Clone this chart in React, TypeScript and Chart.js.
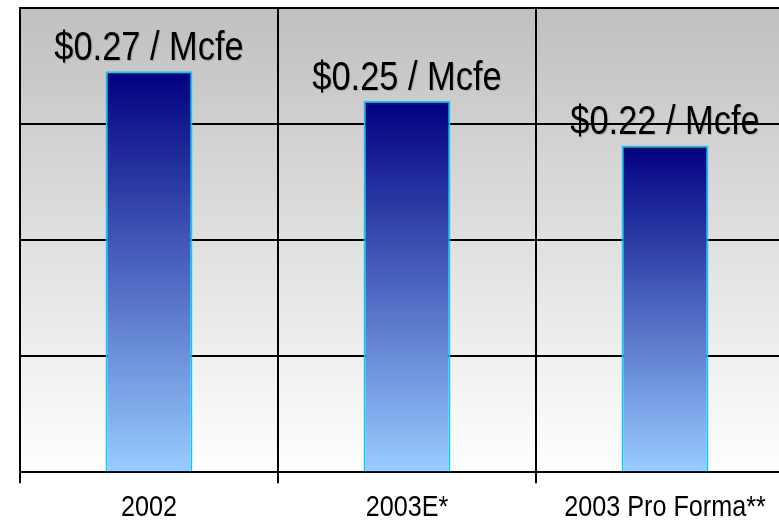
import React, { useEffect, useRef } from "react";
import { Chart, registerables } from "chart.js";

Chart.register(...registerables);

const categories = ["2002", "2003E*", "2003 Pro Forma**"];
const costValues = [0.27, 0.25, 0.22];
const valueLabels = ["$0.27 / Mcfe", "$0.25 / Mcfe", "$0.22 / Mcfe"];
const axisMax = 0.3125;
const axisStep = 0.078125;

const SANS = '"Liberation Sans", Arial, sans-serif';

function drawNarrow(ctx: CanvasRenderingContext2D, text: string, x: number, y: number, sx: number) {
  ctx.save();
  ctx.translate(x, y);
  ctx.scale(sx, 1);
  ctx.fillText(text, 0, 0);
  ctx.restore();
}

const bgPlugin = {
  id: "plotBg",
  beforeDraw(chart: any) {
    const { ctx, chartArea } = chart;
    if (!chartArea) return;
    const g = ctx.createLinearGradient(0, chartArea.top, 0, chartArea.bottom);
    g.addColorStop(0, "#c0c0c0");
    g.addColorStop(1, "#ffffff");
    ctx.save();
    ctx.fillStyle = g;
    ctx.fillRect(chartArea.left, chartArea.top, chartArea.right - chartArea.left, chartArea.bottom - chartArea.top);
    ctx.restore();
  },
};

const labelPlugin = {
  id: "valueLabels",
  afterDatasetsDraw(chart: any) {
    const { ctx } = chart;
    const meta = chart.getDatasetMeta(0);
    ctx.save();
    ctx.font = `40px ${SANS}`;
    ctx.fillStyle = "#000";
    ctx.textAlign = "center";
    ctx.textBaseline = "alphabetic";
    ctx.shadowColor = "rgba(0,0,0,0.18)";
    ctx.shadowOffsetX = 1;
    ctx.shadowOffsetY = 1;
    ctx.shadowBlur = 1;
    meta.data.forEach((bar: any, i: number) => {
      drawNarrow(ctx, valueLabels[i], bar.x, bar.y - 11, 0.86);
    });
    ctx.restore();
  },
  afterDraw(chart: any) {
    const { ctx } = chart;
    const xs = chart.scales.x;
    ctx.save();
    ctx.font = `30px ${SANS}`;
    ctx.fillStyle = "#000";
    ctx.textAlign = "center";
    ctx.textBaseline = "middle";
    xs.ticks.forEach((_t: any, i: number) => {
      drawNarrow(ctx, String(categories[i]), xs.getPixelForTick(i), 508, 0.84);
    });
    ctx.restore();
  },
};

export default function App() {
  const ref = useRef<HTMLCanvasElement | null>(null);

  useEffect(() => {
    if (!ref.current) return;
    const chart = new Chart(ref.current, {
      type: "bar",
      data: {
        labels: categories,
        datasets: [
          {
            data: costValues,
            backgroundColor: (c: any) => {
              const ch = c.chart;
              if (!ch.chartArea || !ch.scales.y) return "#4c66bf";
              const y = ch.scales.y;
              const top = y.getPixelForValue(c.raw);
              const bottom = y.getPixelForValue(0);
              const g = ch.ctx.createLinearGradient(0, top, 0, bottom);
              g.addColorStop(0, "#000080");
              g.addColorStop(1, "#99ccff");
              return g;
            },
            borderColor: "#00ccff",
            borderWidth: 2,
            barPercentage: 0.337,
            categoryPercentage: 1,
          },
        ],
      },
      options: {
        responsive: false,
        animation: false,
        devicePixelRatio: 1,
        layout: { padding: { left: 20, top: 8, right: 16, bottom: 6 } },
        plugins: {
          legend: { display: false },
          tooltip: { enabled: false },
          title: { display: false },
        },
        scales: {
          x: {
            offset: true,
            grid: {
              display: true,
              offset: true,
              color: "#000",
              lineWidth: 2,
              drawTicks: true,
              tickLength: 11,
              drawOnChartArea: true,
            },
            border: { display: true, color: "#000", width: 2 },
            ticks: {
              color: "rgba(0,0,0,0)",
              font: { family: SANS, size: 29 },
              padding: 8,
              maxRotation: 0,
              autoSkip: false,
            },
          },
          y: {
            min: 0,
            max: axisMax,
            grid: { color: "#000", lineWidth: 2, drawTicks: false },
            border: { display: true, color: "#000", width: 2 },
            ticks: { display: false, stepSize: axisStep },
          },
        },
      },
      plugins: [bgPlugin, labelPlugin],
    });
    return () => chart.destroy();
  }, []);

  return (
    <div
      style={{
        position: "fixed",
        left: 0,
        top: 0,
        width: 779,
        height: 523,
        overflow: "hidden",
        background: "#fff",
      }}
    >
      <canvas ref={ref} width={810} height={540} style={{ display: "block", width: 810, height: 540 }} />
    </div>
  );
}
